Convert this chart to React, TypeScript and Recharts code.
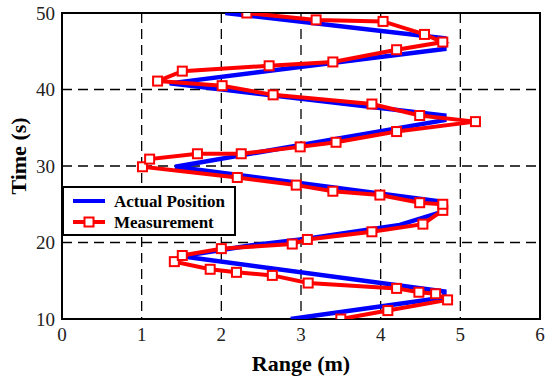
import React from 'react';
import { ScatterChart, Scatter, XAxis, YAxis, CartesianGrid, ReferenceArea, Legend } from 'recharts';

const xTicks = [0, 1, 2, 3, 4, 5, 6];
const yTicks = [10, 20, 30, 40, 50];

const actualRange = [2.87, 4.8, 4.8, 1.5, 2.36, 3.07, 4.24, 4.8, 4.8, 1.42, 4.8, 4.8, 1.35, 4.8, 4.8, 2.05];
const actualTime = [10, 12.8, 13.6, 18.2, 19.6, 20.5, 22.3, 24.1, 25.3, 29.9, 36.0, 36.6, 40.8, 45.3, 46.7, 50];

const measRange = [3.5, 4.09, 4.84, 4.69, 4.48, 4.2, 3.09, 2.64, 2.19, 1.86, 1.41, 1.51, 2.0, 2.89, 3.08, 3.89, 4.53, 4.78, 4.78, 4.49, 3.99, 3.4, 2.94, 2.2, 1.01, 1.1, 1.7, 2.25, 2.99, 3.44, 4.2, 5.19, 4.49, 3.89, 2.65, 2.01, 1.2, 1.51, 2.6, 3.4, 4.2, 4.78, 4.55, 4.03, 3.19, 2.32];
const measTime = [10.0, 11.1, 12.5, 13.3, 13.5, 14.0, 14.7, 15.7, 16.1, 16.5, 17.5, 18.3, 19.2, 19.8, 20.4, 21.4, 22.4, 24.2, 25.0, 25.2, 26.2, 26.7, 27.5, 28.5, 29.9, 30.9, 31.6, 31.6, 32.5, 33.1, 34.5, 35.8, 36.6, 38.1, 39.3, 40.5, 41.1, 42.4, 43.1, 43.6, 45.2, 46.2, 47.2, 48.9, 49.1, 50.0];

const seriesNames = ['Actual Position', 'Measurement'];

const actualData = actualTime.map((t, i) => ({ range: actualRange[i], time: t }));
const measData = measTime.map((t, i) => ({ range: measRange[i], time: t }));

const SERIF = 'Liberation Serif, DejaVu Serif, serif';
const BLUE = '#0000ff';
const RED = '#ff0000';

const Square = (p: any) => (
  <rect x={p.cx - 4.5} y={p.cy - 4.5} width={9} height={9} fill="#fff" stroke={RED} strokeWidth={2} />
);
const NoShape = () => <g />;

const LegendBox = () => (
  <svg width={174} height={50} style={{ display: 'block' }}>
    <rect x={1} y={1} width={172} height={48} fill="#fff" stroke="#000" strokeWidth={2} />
    <line x1={11} x2={43} y1={15} y2={15} stroke={BLUE} strokeWidth={4} />
    <text x={52} y={15} dominantBaseline="central" style={{ fontFamily: SERIF, fontWeight: 'bold', fontSize: 17 }} fill="#000">
      {seriesNames[0]}
    </text>
    <line x1={11} x2={43} y1={36} y2={36} stroke={RED} strokeWidth={4} />
    <rect x={22.5} y={31.5} width={9} height={9} fill="#fff" stroke={RED} strokeWidth={2} />
    <text x={52} y={36} dominantBaseline="central" style={{ fontFamily: SERIF, fontWeight: 'bold', fontSize: 17 }} fill="#000">
      {seriesNames[1]}
    </text>
  </svg>
);

const YLabel = (props: any) => {
  const vb = props.viewBox || {};
  const cx = vb.x + 18;
  const cy = vb.y + vb.height / 2 - 10;
  return (
    <text
      x={cx}
      y={cy}
      transform={`rotate(-90 ${cx} ${cy})`}
      textAnchor="middle"
      dominantBaseline="central"
      style={{ fontFamily: SERIF, fontWeight: 'bold', fontSize: 22 }}
      fill="#000"
    >
      Time (s)
    </text>
  );
};

const XLabel = (props: any) => {
  const vb = props.viewBox || {};
  const cx = vb.x + vb.width / 2;
  const cy = vb.y + 44;
  return (
    <text x={cx} y={cy} textAnchor="middle" dominantBaseline="central" style={{ fontFamily: SERIF, fontWeight: 'bold', fontSize: 22 }} fill="#000">
      Range (m)
    </text>
  );
};

const tickStyle = { fontSize: 19, fill: '#222', fontFamily: SERIF, style: { fontFamily: SERIF } };

export default function App() {
  return (
    <div style={{ position: 'absolute', left: 0, top: 0, width: 550, height: 380, background: '#fff', fontFamily: SERIF }}>
      <ScatterChart width={550} height={380} margin={{ top: 13, right: 10, bottom: 0, left: 0 }} style={{ fontFamily: SERIF }}>
        <CartesianGrid stroke="#000" strokeWidth={1.3} strokeDasharray="10 6" />
        <XAxis
          type="number"
          dataKey="range"
          domain={[0, 6]}
          ticks={xTicks}
          height={61}
          axisLine={{ stroke: '#000', strokeWidth: 2 }}
          tickLine={false}
          tickSize={0}
          tickMargin={9}
          tick={tickStyle}
          label={<XLabel />}
          allowDataOverflow
        />
        <YAxis
          type="number"
          dataKey="time"
          domain={[10, 50]}
          ticks={yTicks}
          width={62}
          axisLine={{ stroke: '#000', strokeWidth: 2 }}
          tickLine={false}
          tickSize={0}
          tickMargin={7}
          tick={tickStyle}
          label={<YLabel />}
          allowDataOverflow
        />
        <ReferenceArea x1={0} x2={6} y1={10} y2={50} fill="none" stroke="#000" strokeWidth={2} fillOpacity={0} />
        <Scatter
          name={seriesNames[0]}
          data={actualData}
          line={{ stroke: BLUE, strokeWidth: 4.5 }}
          lineJointType="linear"
          shape={NoShape}
          isAnimationActive={false}
        />
        <Scatter
          name={seriesNames[1]}
          data={measData}
          line={{ stroke: RED, strokeWidth: 4 }}
          lineJointType="linear"
          shape={Square}
          isAnimationActive={false}
        />
        <Legend
          layout="horizontal"
          verticalAlign="middle"
          align="center"
          content={<LegendBox />}
          wrapperStyle={{ position: 'absolute', left: 62, top: 186, width: 174, height: 50 }}
        />
      </ScatterChart>
    </div>
  );
}
